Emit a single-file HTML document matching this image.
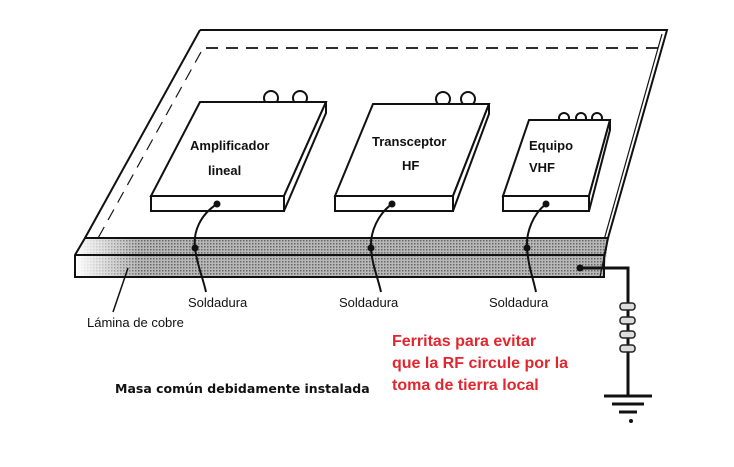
<!DOCTYPE html>
<html><head><meta charset="utf-8"><style>
html,body{margin:0;padding:0;background:#fff;}
svg{display:block;}
text{font-family:"Liberation Sans",sans-serif;}
</style></head><body>
<svg width="734" height="467" viewBox="0 0 734 467" xmlns="http://www.w3.org/2000/svg">
<defs>
<pattern id="dots" width="3" height="3" patternUnits="userSpaceOnUse">
<rect width="3" height="3" fill="#b8b8b8"/><rect width="1.5" height="1.5" fill="#666"/>
</pattern>
<linearGradient id="fade" x1="0" x2="1" y1="0" y2="0">
<stop offset="0" stop-color="#fff" stop-opacity="1"/><stop offset="0.12" stop-color="#fff" stop-opacity="0"/>
</linearGradient>
</defs>
<g stroke="#111" fill="none" stroke-width="2">
<path d="M200,30 L667,30 L608,238"/>
<path d="M200,30 L85,238"/>
<path d="M206,48 L662,48" stroke-dasharray="12,8" stroke-width="1.8"/>
<path d="M201,52 L97,240" stroke-dasharray="12,8" stroke-width="1.2"/>
<path d="M662,34 L604,240" stroke-width="1.2"/>
</g>
<path d="M85,238 L608,238 L604,277 L75,277 L75,255 Z" fill="url(#dots)"/>
<path d="M75,238 L608,238 L604,277 L75,277 Z" fill="url(#fade)"/>
<g stroke="#111" fill="none" stroke-width="2">
<path d="M85,238 L608,238 L604,258 L604,277 L75,277 L75,255 Z"/>
<path d="M75,255 L604,255"/>
<path d="M608,238 L600,277" stroke-width="1.2"/>
</g>
<g stroke="#111" stroke-width="2" fill="#fff">
<circle cx="271" cy="98" r="7"/><circle cx="300" cy="98" r="7"/>
<path d="M200,102 L326,102 L284,196 L151,196 Z"/>
<path d="M326,102 L326,113 L284,211 L284,196 Z"/>
<rect x="151" y="196" width="133" height="15"/>
<circle cx="443" cy="99" r="7"/><circle cx="468" cy="99" r="7"/>
<path d="M373,104 L489,104 L453,196 L335,196 Z"/>
<path d="M489,104 L489,114 L453,211 L453,196 Z"/>
<rect x="335" y="196" width="118" height="15"/>
<circle cx="564" cy="118" r="5"/><circle cx="581" cy="118" r="5"/><circle cx="597" cy="118" r="5"/>
<path d="M529,120 L610,120 L589,196 L503,196 Z"/>
<path d="M610,120 L610,130 L589,211 L589,196 Z"/>
<rect x="503" y="196" width="86" height="15"/>
</g>
<g stroke="#111" stroke-width="2" fill="none">
<path d="M217,204 C200,215 193,232 195,248 C197,265 203,278 206,292"/>
<path d="M392,204 C378,214 370,232 371,248 C372,265 378,278 381,292"/>
<path d="M546,204 C533,214 526,232 527,248 C528,265 533,278 536,292"/>
<path d="M128,268 L113,312" stroke-width="1.5"/>
<path d="M580,268 L628,268 L628,395" stroke-width="3"/>
<path d="M604,396 L652,396 M612,404 L644,404 M619,412 L637,412" stroke-width="3"/>
</g>
<g fill="#111">
<circle cx="217" cy="204" r="3.5"/><circle cx="195" cy="248" r="3.5"/>
<circle cx="392" cy="204" r="3.5"/><circle cx="371" cy="248" r="3.5"/>
<circle cx="546" cy="204" r="3.5"/><circle cx="527" cy="248" r="3.5"/>
<circle cx="580" cy="268" r="3.5"/><circle cx="631" cy="421" r="2"/>
</g>
<g stroke="#222" stroke-width="1.5" fill="#ddd">
<rect x="620" y="303" width="15" height="7" rx="3"/>
<rect x="620" y="317" width="15" height="7" rx="3"/>
<rect x="620" y="331" width="15" height="7" rx="3"/>
<rect x="620" y="345" width="15" height="7" rx="3"/>
</g>
<g fill="#111" font-weight="bold" font-size="13">
<text x="190" y="150">Amplificador</text>
<text x="208" y="175">lineal</text>
<text x="372" y="146">Transceptor</text>
<text x="402" y="170">HF</text>
<text x="529" y="150">Equipo</text>
<text x="529" y="172">VHF</text>
</g>
<g fill="#111" font-size="13">
<text x="188" y="307">Soldadura</text>
<text x="339" y="307">Soldadura</text>
<text x="489" y="307">Soldadura</text>
<text x="87" y="327">Lámina de cobre</text>
<text x="115" y="393" font-size="12.5" font-weight="bold" style="font-family:'DejaVu Sans',sans-serif">Masa común debidamente instalada</text>
</g>
<g fill="#e3262e" font-size="16" font-weight="bold">
<text x="392" y="346">Ferritas para evitar</text>
<text x="392" y="368">que la RF circule por la</text>
<text x="392" y="390">toma de tierra local</text>
</g>
</svg>
</body></html>
